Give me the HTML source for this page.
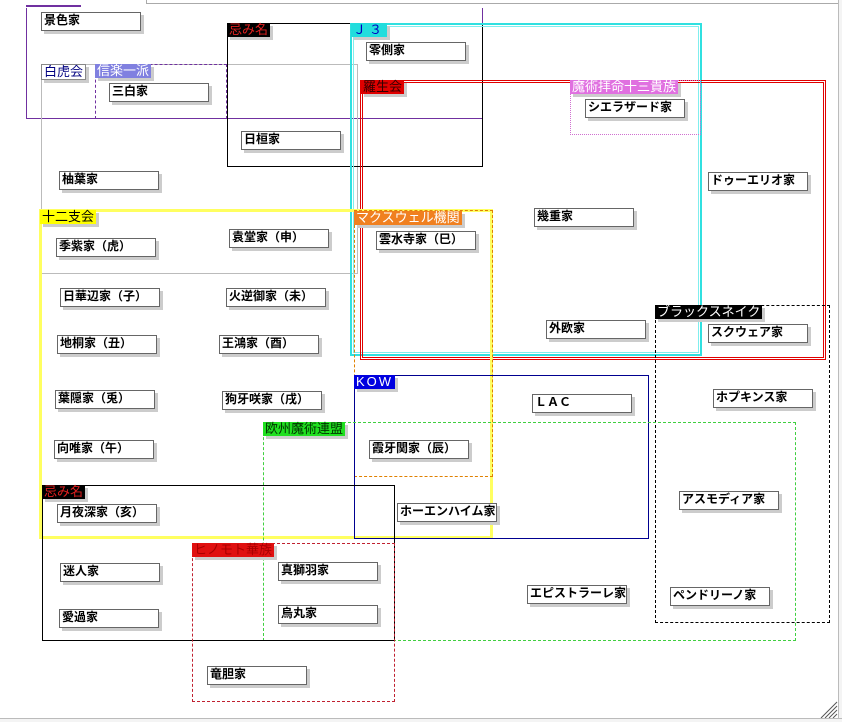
<!DOCTYPE html>
<html><head><meta charset="utf-8"><style>
body{margin:0;width:842px;height:722px;background:#fff;position:relative;overflow:hidden;font-family:"Liberation Sans","Noto Sans CJK JP",sans-serif}
.g{position:absolute;box-sizing:border-box}
.l{position:absolute;font-size:13px;line-height:14px;padding:0 2px;white-space:nowrap;box-shadow:3px 3px 0 #ccc}
.n{position:absolute;width:100px;height:19px;box-sizing:border-box;border:1px solid #666;background:#fff;box-shadow:3px 3px 0 #ccc;font-size:12px;font-weight:bold;line-height:14px;padding-left:2px;overflow:hidden;white-space:nowrap;color:#000}
</style></head><body>
<div class="g" style="left:146px;top:-2px;width:700px;height:6px;border:1px solid #aaa"></div>
<div class="g" style="left:838px;top:0;width:4px;height:722px;border-left:1px solid #bbb;background:#f4f4f4"></div>
<div class="g" style="left:0;top:718px;width:842px;height:4px;border-top:1px solid #bbb;background:#f4f4f4"></div>
<svg style="position:absolute;left:818px;top:700px" width="20" height="18"><g stroke="#555"><line x1="19" y1="2" x2="3" y2="18"/><line x1="19" y1="6" x2="7" y2="18"/><line x1="19" y1="10" x2="11" y2="18"/><line x1="19" y1="14" x2="15" y2="18"/></g></svg>

<div class="g" style="left:26px;top:5px;width:55px;height:2px;background:#7030a0"></div>
<div class="g" style="left:26px;top:8px;width:457px;height:111px;border:1px solid #7030a0;border-top:none"></div>
<div class="g" style="left:41px;top:64px;width:317px;height:210px;border:1px solid #bbb"></div>
<div class="l" style="left:41px;top:64px;background:#fff;color:#000080;border:1px solid #888">白虎会</div>
<div class="g" style="left:95px;top:64px;width:132px;height:55px;border:1px dashed #7030a0"></div>
<div class="l" style="left:95px;top:64px;background:#8080e0;color:#fff">信楽一派</div>
<div class="g" style="left:227px;top:23px;width:256px;height:144px;border:1px solid #000"></div>
<div class="l" style="left:227px;top:23px;background:#000;color:#e02020">忌み名</div>
<div class="g" style="left:350px;top:23px;width:352px;height:333px;border:2px solid #30e0e0"></div>
<div class="g" style="left:353px;top:26px;width:346px;height:327px;border:1px solid #80eeee"></div>
<div class="l" style="left:351px;top:23px;background:#22dddd;color:#0000c0;letter-spacing:3px">Ｊ３</div>
<div class="g" style="left:360px;top:80px;width:466px;height:280px;border:1px solid #e00000"></div>
<div class="g" style="left:362px;top:82px;width:462px;height:276px;border:1px solid #e00000"></div>
<div class="l" style="left:361px;top:80px;background:#e00000;color:#300">羅生会</div>
<div class="g" style="left:570px;top:80px;width:131px;height:55px;border:1px dotted #d070d0"></div>
<div class="l" style="left:570px;top:80px;background:#e070e0;color:#fff">魔術拝命十三貴族</div>
<div class="g" style="left:39px;top:209px;width:454px;height:330px;border:3px solid #ffff60"></div>
<div class="l" style="left:40px;top:210px;background:#ffff00;color:#000">十二支会</div>
<div class="g" style="left:354px;top:210px;width:139px;height:267px;border:1px dashed #e08000"></div>
<div class="l" style="left:354px;top:211px;background:#f08020;color:#fff">マクスウェル機関</div>
<div class="g" style="left:655px;top:305px;width:175px;height:318px;border:1px dashed #000"></div>
<div class="l" style="left:655px;top:305px;background:#000;color:#fff">ブラックスネイク</div>
<div class="g" style="left:354px;top:375px;width:295px;height:164px;border:1px solid #000090"></div>
<div class="l" style="left:354px;top:375px;background:#0000e0;color:#fff;letter-spacing:2px">KOW</div>
<div class="g" style="left:263px;top:422px;width:533px;height:219px;border:1px dashed #40d040"></div>
<div class="l" style="left:263px;top:422px;background:#20e020;color:#003000">欧州魔術連盟</div>
<div class="g" style="left:42px;top:485px;width:353px;height:156px;border:1px solid #000"></div>
<div class="l" style="left:42px;top:485px;background:#000;color:#e02020">忌み名</div>
<div class="g" style="left:192px;top:543px;width:203px;height:159px;border:1px dashed #c02030"></div>
<div class="l" style="left:192px;top:543px;background:#e01010;color:#a00">ヒノモト華族</div>

<div class="n" style="left:41px;top:12px">景色家</div>
<div class="n" style="left:109px;top:83px">三白家</div>
<div class="n" style="left:241px;top:131px">日桓家</div>
<div class="n" style="left:59px;top:171px">柚葉家</div>
<div class="n" style="left:56px;top:238px">季紫家（虎）</div>
<div class="n" style="left:229px;top:229px">袁堂家（申）</div>
<div class="n" style="left:366px;top:42px">零側家</div>
<div class="n" style="left:585px;top:99px">シエラザード家</div>
<div class="n" style="left:708px;top:172px">ドゥーエリオ家</div>
<div class="n" style="left:534px;top:208px">幾重家</div>
<div class="n" style="left:376px;top:231px">雲水寺家（巳）</div>
<div class="n" style="left:60px;top:288px">日華辺家（子）</div>
<div class="n" style="left:226px;top:288px">火逆御家（未）</div>
<div class="n" style="left:57px;top:335px">地桐家（丑）</div>
<div class="n" style="left:219px;top:335px">王鴻家（酉）</div>
<div class="n" style="left:546px;top:320px">外欧家</div>
<div class="n" style="left:708px;top:324px">スクウェア家</div>
<div class="n" style="left:55px;top:390px">葉隠家（兎）</div>
<div class="n" style="left:222px;top:391px">狗牙咲家（戌）</div>
<div class="n" style="left:532px;top:394px">ＬＡＣ</div>
<div class="n" style="left:713px;top:389px">ホプキンス家</div>
<div class="n" style="left:54px;top:440px">向唯家（午）</div>
<div class="n" style="left:369px;top:440px">霞牙関家（辰）</div>
<div class="n" style="left:679px;top:491px">アスモディア家</div>
<div class="n" style="left:57px;top:504px">月夜深家（亥）</div>
<div class="n" style="left:397px;top:503px">ホーエンハイム家</div>
<div class="n" style="left:60px;top:563px">迷人家</div>
<div class="n" style="left:278px;top:562px">真獅羽家</div>
<div class="n" style="left:527px;top:585px">エピストラーレ家</div>
<div class="n" style="left:670px;top:587px">ペンドリーノ家</div>
<div class="n" style="left:59px;top:609px">愛過家</div>
<div class="n" style="left:278px;top:605px">烏丸家</div>
<div class="n" style="left:207px;top:666px">竜胆家</div>
</body></html>
